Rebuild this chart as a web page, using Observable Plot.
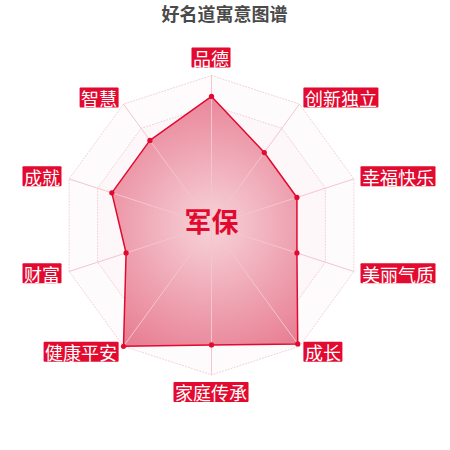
<!DOCTYPE html>
<html>
<head>
<meta charset="utf-8">
<script src="https://cdn.jsdelivr.net/npm/d3@7"></script>
<script src="https://cdn.jsdelivr.net/npm/@observablehq/plot@0.6"></script>
<style>
  html, body { margin: 0; padding: 0; background: #fff; }
  #chart svg { display: block; font-family: "Noto Sans CJK SC", "Noto Sans", sans-serif; }
</style>
</head>
<body>
<div id="chart"></div>
<script>
// ---- data ----
const title = "好名道寓意图谱";
const nameText = "军保";
const dimensions = ["品德", "创新独立", "幸福快乐", "美丽气质", "成长", "家庭传承", "健康平安", "财富", "成就", "智慧"];
const scores = [86, 60, 60, 60, 98, 80, 100, 60, 70, 70];
const maxScore = 100;
const gridLevels = [20, 40, 60, 80, 100];

// ---- derived tables ----
const n = dimensions.length;
const ang = i => i * 2 * Math.PI / n;
const pos = (i, v) => ({x: Math.sin(ang(i)) * v / maxScore, y: Math.cos(ang(i)) * v / maxScore});

const points = scores.map((v, i) => ({dim: dimensions[i], value: v, ...pos(i, v)}));
const gridPts = gridLevels.slice().reverse().flatMap(l => dimensions.map((d, i) => ({level: l, ...pos(i, l)})));
const spokes = dimensions.map((d, i) => ({dim: d, ...pos(i, maxScore)}));
const labels = dimensions.map((d, i) => ({dim: d, a: ang(i), ...pos(i, maxScore * 1.05)}));

const RED = "#e20a2f";

function defsMark(index, scales) {
  const cx = scales.x(0), cy = scales.y(0), r = scales.x(1) - scales.x(0);
  const defs = d3.create("svg:defs");
  const g = defs.append("radialGradient")
    .attr("id", "polyGrad")
    .attr("gradientUnits", "userSpaceOnUse")
    .attr("cx", cx).attr("cy", cy).attr("r", r);
  g.append("stop").attr("offset", "0%").attr("stop-color", "#f7d3d9");
  g.append("stop").attr("offset", "100%").attr("stop-color", "#e77a90");
  return defs.node();
}

function labelMark(index, scales) {
  const fs = 18, padX = 1.5, h = 20;
  const g = d3.create("svg:g");
  for (const L of labels) {
    const px = scales.x(L.x), py = scales.y(L.y);
    const s = Math.sin(L.a), c = Math.cos(L.a);
    const w = L.dim.length * fs + 2 * padX;
    let x0, y0;
    if (Math.abs(s) < 1e-6) { x0 = px - w / 2; y0 = c > 0 ? py - h : py; }
    else { x0 = s > 0 ? px : px - w; y0 = py - h / 2; }
    g.append("rect")
      .attr("x", x0).attr("y", y0).attr("width", w).attr("height", h)
      .attr("rx", 1).attr("fill", RED);
    g.append("text")
      .attr("x", x0 + w / 2).attr("y", y0 + h / 2 + 0.5)
      .attr("text-anchor", "middle").attr("dominant-baseline", "central")
      .attr("font-size", fs).attr("fill", "#fff")
      .attr("font-family", "'Noto Sans CJK SC', sans-serif")
      .text(L.dim);
  }
  return g.node();
}

const chart = Plot.plot({
  width: 450,
  height: 450,
  margin: 0,
  style: {background: "#fff", overflow: "visible"},
  x: {domain: [-1.4095, 1.5965], axis: null},
  y: {domain: [-1.505, 1.501], axis: null},
  marks: [
    defsMark,
    // split area bands
    Plot.line(gridPts, {x: "x", y: "y", z: "level", curve: "linear-closed", fill: "#f6cbd4", fillOpacity: 0.07, stroke: "none"}),
    // dotted grid rings
    Plot.line(gridPts, {x: "x", y: "y", z: "level", curve: "linear-closed", stroke: "#f2d0d7", strokeWidth: 1, strokeDasharray: "1,2"}),
    // data polygon
    Plot.line(points, {x: "x", y: "y", curve: "linear-closed", fill: "url(#polyGrad)", stroke: RED, strokeWidth: 1.5}),
    // spokes
    Plot.link(spokes, {x1: () => 0, y1: () => 0, x2: "x", y2: "y", stroke: "#f3c6cf", strokeWidth: 1}),
    Plot.dot(points, {x: "x", y: "y", r: 2.6, fill: RED, stroke: "none"}),
    Plot.text([nameText], {x: () => 0, y: () => 0, text: d => d, fontSize: 27, fontWeight: "bold", fill: RED, dy: -2, fontFamily: "'Noto Sans CJK SC', sans-serif"}),
    Plot.text([title], {frameAnchor: "top", lineAnchor: "middle", text: d => d, fontSize: 18, fontWeight: "bold", fill: "#4a4a4a", dx: -1, dy: 15, fontFamily: "'Noto Sans CJK SC', sans-serif"}),
    labelMark
  ]
});
document.getElementById("chart").appendChild(chart);
</script>
</body>
</html>
